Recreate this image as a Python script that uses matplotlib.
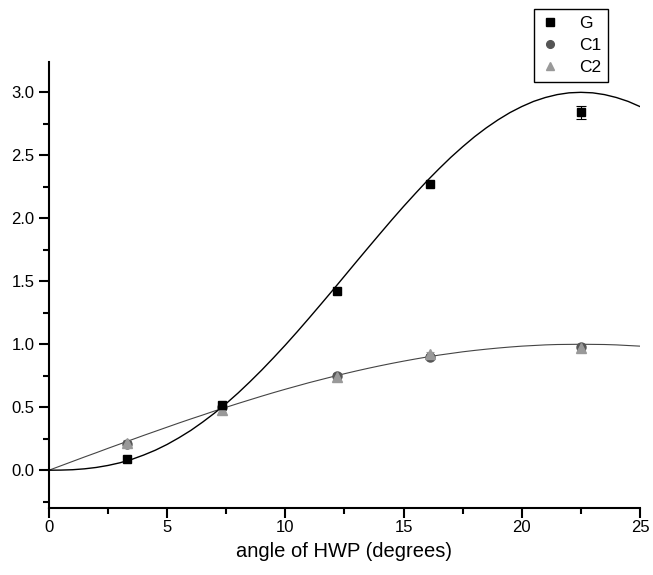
import numpy as np
import matplotlib.pyplot as plt

plt.rcParams['font.family'] = ['Liberation Sans', 'DejaVu Sans']

# measured points
angle = [3.3, 7.3, 12.2, 16.1, 22.5]
g_vals = [0.09, 0.52, 1.42, 2.27, 2.84]
g_err = [0.01, 0.01, 0.01, 0.01, 0.05]
c1_vals = [0.21, 0.50, 0.75, 0.90, 0.98]
c1_err = [0.02, 0.02, 0.02, 0.02, 0.02]
c2_vals = [0.22, 0.48, 0.74, 0.92, 0.97]
c2_err = [0.02, 0.02, 0.02, 0.02, 0.02]

# fitted curves, read at every half degree
fit_angle = [i * 0.5 for i in range(51)]
g_fit = [0.000, 0.001, 0.004, 0.011, 0.022, 0.038, 0.059, 0.086, 0.120, 0.159,
         0.205, 0.258, 0.316, 0.382, 0.453, 0.530, 0.613, 0.702, 0.795, 0.893,
         0.994, 1.099, 1.207, 1.317, 1.428, 1.541, 1.654, 1.766, 1.877, 1.987,
         2.094, 2.197, 2.298, 2.393, 2.484, 2.568, 2.647, 2.718, 2.782, 2.839,
         2.887, 2.928, 2.959, 2.982, 2.996, 3.000, 2.996, 2.982, 2.959, 2.928,
         2.887]
c_fit = [0.000, 0.035, 0.070, 0.105, 0.139, 0.174, 0.208, 0.242, 0.276, 0.309,
         0.342, 0.375, 0.407, 0.438, 0.470, 0.500, 0.530, 0.559, 0.588, 0.616,
         0.643, 0.669, 0.695, 0.719, 0.743, 0.766, 0.788, 0.809, 0.829, 0.848,
         0.866, 0.883, 0.899, 0.914, 0.927, 0.940, 0.951, 0.961, 0.970, 0.978,
         0.985, 0.990, 0.995, 0.998, 0.999, 1.000, 0.999, 0.998, 0.995, 0.990,
         0.985]

fig = plt.figure(figsize=(6.53, 5.75), dpi=100)
ax = fig.add_axes([0.075, 0.1165, 0.905, 0.7755])

ax.plot(fit_angle, c_fit, color='#444444', lw=0.8, zorder=2)
ax.plot(fit_angle, g_fit, color='black', lw=1.0, zorder=2)

# only the last G point has an error bar bigger than the marker
ax.errorbar(angle, g_vals, yerr=g_err, fmt='s', color='black', ms=6.3,
            capsize=3.5, elinewidth=0.8, capthick=0.8, errorevery=(4, 1),
            label='G', zorder=4)
ax.errorbar(angle, c1_vals, yerr=c1_err, fmt='o', color='#555555', ms=6.5,
            capsize=3, elinewidth=0.8, capthick=0.8, label='C1', zorder=3)
ax.errorbar(angle, c2_vals, yerr=c2_err, fmt='^', color='#999999', ms=6.5,
            capsize=3, elinewidth=0.8, capthick=0.8, label='C2', zorder=3)

ax.set_xlim(0, 25)
ax.set_ylim(-0.3, 3.24)
ax.set_xticks([0, 5, 10, 15, 20, 25])
ax.set_xticks(np.arange(2.5, 25, 5), minor=True)
ax.set_yticks([0.0, 0.5, 1.0, 1.5, 2.0, 2.5, 3.0])
ax.set_yticks(np.arange(-0.25, 3.25, 0.5), minor=True)
ax.set_yticklabels(['0.0', '0.5', '1.0', '1.5', '2.0', '2.5', '3.0'])

ax.spines['top'].set_visible(False)
ax.spines['right'].set_visible(False)
for s in ['left', 'bottom']:
    ax.spines[s].set_linewidth(1.5)
ax.tick_params(which='major', direction='out', length=7, width=1.5, labelsize=12)
ax.tick_params(which='minor', direction='out', length=4, width=1.5)
ax.tick_params(axis='x', which='major', pad=1.5)

ax.set_xlabel('angle of HWP (degrees)', fontsize=14.5, labelpad=5)

handles, labels = ax.get_legend_handles_labels()
handles = [h[0] for h in handles]
leg = ax.legend(handles, labels, loc='upper left', bbox_to_anchor=(0.818, 0.984),
                bbox_transform=fig.transFigure, fontsize=12.5, fancybox=False,
                framealpha=1, edgecolor='black', handlelength=1.0,
                handletextpad=1.2, borderpad=0.4, labelspacing=0.4,
                borderaxespad=0, markerscale=0.85)
leg.get_frame().set_linewidth(1.0)

fig.savefig('out.png', dpi=100)
